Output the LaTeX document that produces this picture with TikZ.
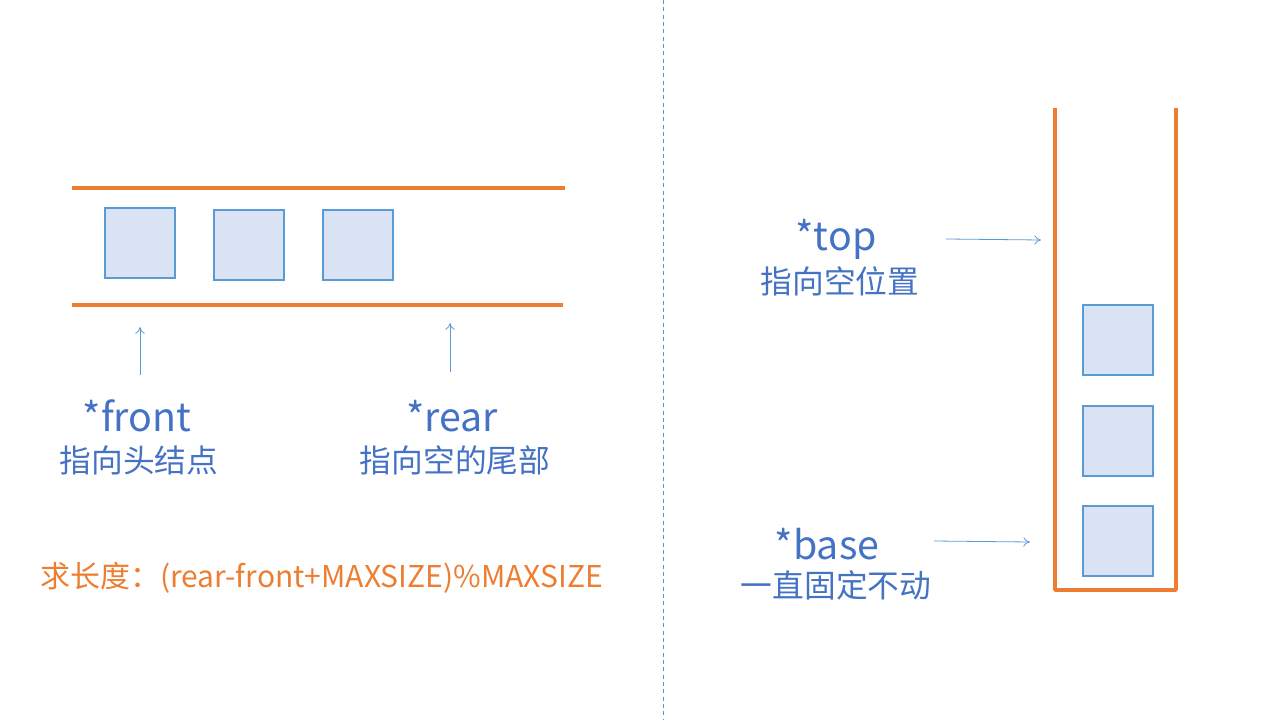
\documentclass[tikz,border=0pt]{standalone}
\usepackage{fontspec}
\setmainfont{Noto Sans CJK SC}
\usetikzlibrary{arrows.meta,positioning}
\definecolor{txtblue}{HTML}{4472C4}
\definecolor{lineblue}{HTML}{5B9BD5}
\definecolor{boxfill}{HTML}{DAE3F3}
\definecolor{wall}{HTML}{ED7D31}
\tikzset{every node/.style={inner sep=0pt},
  cell/.style={draw=lineblue, fill=boxfill, line width=0.9pt, minimum size=52.5pt},
  wallline/.style={wall, line width=2.6pt},
  ptr/.style={lineblue, line width=0.6pt, -{To[length=5pt,width=7pt]}},
  ptrlabel/.style={txtblue, font=\fontsize{29.5}{32}\selectfont},
  ptrnote/.style={txtblue, font=\fontsize{23.8}{28}\selectfont}}

\begin{document}
\begin{tikzpicture}[x=0.75pt,y=-0.75pt]
  \useasboundingbox (0,0) rectangle (1280,720);
  \draw[lineblue!70!gray, line width=0.6pt, dash pattern=on 3pt off 2.5pt] (663,0) -- (663,720);
  % queue
  \draw[wallline] (72,188) -- (565,188);
  \draw[wallline] (72,305) -- (563,305);
  \node[cell] (q1) at (140,243) {};
  \node[cell] (q2) at (249,245) {};
  \node[cell] (q3) at (358,245) {};
  \node[ptrlabel] (front) at (137,416) {*front};
  \node[ptrnote] (fronttxt) at (139,460) {指向头结点};
  \node[ptrlabel] (rear) at (452,416) {*rear};
  \node[ptrnote] (reartxt) at (455,460) {指向空的尾部};
  \coordinate (fronttip) at (140,327);
  \coordinate (reartip) at (450,323);
  \draw[ptr] (140,375) -- (fronttip);
  \draw[ptr] (450,372) -- (reartip);
  \node[wall, anchor=west, font=\fontsize{22.5}{26}\selectfont] (len) at (40,578) {求长度：(rear-front+MAXSIZE)\%MAXSIZE};
  % stack
  \draw[wallline, line join=round] (1055,108) -- (1055,590) -- (1176,590) -- (1176,108);
  \node[cell] (s1) at (1118,541) {};
  \node[cell] (s2) at (1118,441) {};
  \node[cell] (s3) at (1118,340) {};
  \node[ptrlabel] (top) at (836,239) {*top};
  \node[ptrnote] (toptxt) at (840,281) {指向空位置};
  \node[ptrlabel] (base) at (827,544) {*base};
  \node[ptrnote] (basetxt) at (836,585) {一直固定不动};
  \coordinate (toptip) at (1041,240);
  \coordinate (basetip) at (1030,542);
  \draw[ptr] (946,239) -- (toptip);
  \draw[ptr] (934,541) -- (basetip);
\end{tikzpicture}
\end{document}
